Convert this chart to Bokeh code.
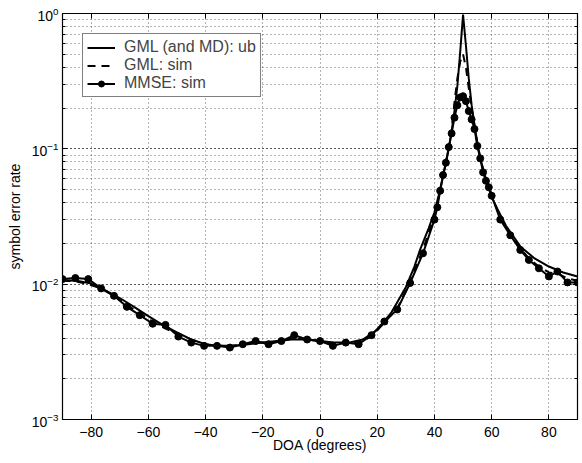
from bokeh.plotting import figure
from bokeh.models import FixedTicker, LinearAxis, LogAxis, LogTicker, CustomJSTickFormatter
from bokeh.embed import file_html
from bokeh.resources import INLINE

# ---- data ----
ub_x = [-90, -85, -80, -75, -70, -65, -60, -55, -50, -45, -40, -35, -30, -25, -20, -15, -10, -5,
        0, 5, 10, 15, 20, 25, 30, 33, 35, 38, 40, 42, 44, 45, 46, 47, 48, 49, 50, 51, 52, 53,
        54, 55, 56, 58, 60, 62, 65, 70, 75, 80, 85, 90]
ub_y = [0.0107, 0.0106, 0.0101, 0.0090, 0.0079, 0.0068, 0.0058, 0.0050, 0.0044, 0.0039, 0.0036,
        0.0035, 0.0035, 0.0036, 0.0037, 0.0038, 0.0039, 0.0039, 0.0038, 0.0037, 0.0037, 0.0039,
        0.0046, 0.0062, 0.0095, 0.0135, 0.018, 0.026, 0.034, 0.050, 0.078, 0.10, 0.135, 0.19,
        0.29, 0.52, 0.98, 0.58, 0.33, 0.21, 0.15, 0.11, 0.085, 0.060, 0.044, 0.036, 0.027,
        0.019, 0.0155, 0.0135, 0.0122, 0.0114]

sim_x = [-90, -85.5, -81, -76.5, -72, -67.5, -63, -58.5, -54, -49.5, -45, -40.5, -36, -31.5,
         -27, -22.5, -18, -13.5, -9, -4.5, 0, 4.5, 9, 13.5, 18, 22.5, 27, 31.5, 36, 40, 41, 42,
         43, 44, 45, 46, 47, 48, 49, 50, 51, 52, 53, 54, 55, 56, 57, 58, 59, 60, 63, 66.5, 70,
         73, 76.5, 80, 83, 86.5, 90]

gml_sim_y = [0.0106, 0.0105, 0.0100, 0.0093, 0.0082, 0.0070, 0.0061, 0.0053, 0.0047, 0.0043,
             0.0039, 0.0036, 0.0035, 0.0035, 0.0036, 0.0037, 0.0037, 0.0038, 0.0040, 0.0039,
             0.0038, 0.0036, 0.0037, 0.0037, 0.0041, 0.0052, 0.0066, 0.0105, 0.018, 0.032,
             0.039, 0.050, 0.064, 0.080, 0.10, 0.14, 0.22, 0.33, 0.44, 0.50, 0.40, 0.28, 0.20,
             0.15, 0.11, 0.086, 0.070, 0.061, 0.053, 0.045, 0.031, 0.024, 0.0185, 0.0155,
             0.0135, 0.0122, 0.0120, 0.0110, 0.0106]

mmse_y = [0.0109, 0.0111, 0.0109, 0.0093, 0.0082, 0.0068, 0.0059, 0.0051, 0.0050, 0.0041,
          0.0037, 0.0035, 0.0035, 0.0034, 0.0036, 0.0038, 0.0036, 0.0038, 0.0042, 0.0039,
          0.0038, 0.0035, 0.0037, 0.0036, 0.0042, 0.0053, 0.0065, 0.0102, 0.0169, 0.030,
          0.037, 0.049, 0.064, 0.079, 0.103, 0.13, 0.17, 0.21, 0.24, 0.245, 0.225, 0.19,
          0.165, 0.14, 0.105, 0.085, 0.067, 0.058, 0.052, 0.045, 0.030, 0.023, 0.0179,
          0.0151, 0.0131, 0.0114, 0.0124, 0.0103, 0.0103]

x_ticks = [-80, -60, -40, -20, 0, 20, 40, 60, 80]

FONT = "Liberation Sans"

p = figure(frame_width=515, frame_height=406, x_range=(-90, 90), y_range=(1e-3, 1),
           y_axis_type="log", output_backend="svg", toolbar_location=None,
           min_border_left=62, min_border_right=4, min_border_top=13, min_border_bottom=42)
p.background_fill_color = "white"
p.border_fill_color = "white"
p.outline_line_color = "black"
p.outline_line_width = 1.2

# lines
p.line(ub_x, ub_y, line_color="black", line_width=2, legend_label="GML (and MD): ub")
p.line(sim_x, gml_sim_y, line_color="black", line_width=2, line_dash="8 6",
       legend_label="GML: sim")
p.line(sim_x, mmse_y, line_color="black", line_width=2, legend_label="MMSE: sim")
p.scatter(sim_x, mmse_y, size=7, fill_color="black", line_color="black",
          legend_label="MMSE: sim")

# axes
xa = p.xaxis[0]
xa.ticker = FixedTicker(ticks=x_ticks)
xa.axis_label = "DOA (degrees)"
ya = p.yaxis[0]
ya.axis_label = "symbol error rate"
for ax in (xa, ya):
    ax.axis_label_text_font = FONT
    ax.axis_label_text_font_size = "14px"
    ax.axis_label_text_font_style = "normal"
    ax.axis_label_text_color = "black"
    ax.major_label_text_font = FONT
    ax.major_label_text_font_size = "14px"
    ax.major_label_text_color = "black"
    ax.axis_line_color = "black"
    ax.major_tick_line_color = "black"
    ax.major_tick_in = 5
    ax.major_tick_out = 0
    ax.minor_tick_in = 3
    ax.minor_tick_out = 0
    ax.minor_tick_line_color = "black"
xa.minor_tick_line_color = None
xa.major_label_standoff = 7
xa.axis_label_standoff = -3
ya.major_label_standoff = 4
ya.axis_label_standoff = 6

blank = CustomJSTickFormatter(code="return ''")
top = LinearAxis(ticker=FixedTicker(ticks=x_ticks), formatter=blank,
                 major_tick_in=5, major_tick_out=0, minor_tick_line_color=None,
                 major_label_text_font_size="0px", major_label_standoff=0,
                 axis_line_color="black", major_tick_line_color="black")
right = LogAxis(ticker=LogTicker(), formatter=blank,
                major_tick_in=5, major_tick_out=0, minor_tick_in=3, minor_tick_out=0,
                major_label_text_font_size="0px", major_label_standoff=0,
                axis_line_color="black", major_tick_line_color="black",
                minor_tick_line_color="black")
p.add_layout(top, "above")
p.add_layout(right, "right")

# grids
p.xgrid.ticker = FixedTicker(ticks=x_ticks)
for g in (p.xgrid, p.ygrid):
    g.grid_line_color = "black"
    g.grid_line_alpha = 0.6
    g.grid_line_dash = "1 3"
p.ygrid.minor_grid_line_color = "black"
p.ygrid.minor_grid_line_alpha = 0.6
p.ygrid.minor_grid_line_dash = "1 3"

# legend
lg = p.legend[0]
lg.location = "top_left"
lg.margin = 20
lg.border_line_color = "black"
lg.border_line_width = 1.2
lg.background_fill_alpha = 1
lg.label_text_font = FONT
lg.label_text_font_size = "16px"
lg.label_height = 15
lg.glyph_height = 15
lg.glyph_width = 28
lg.spacing = 0
lg.padding = 4
lg.label_standoff = 9

open("out.html", "w").write(file_html(p, INLINE))
